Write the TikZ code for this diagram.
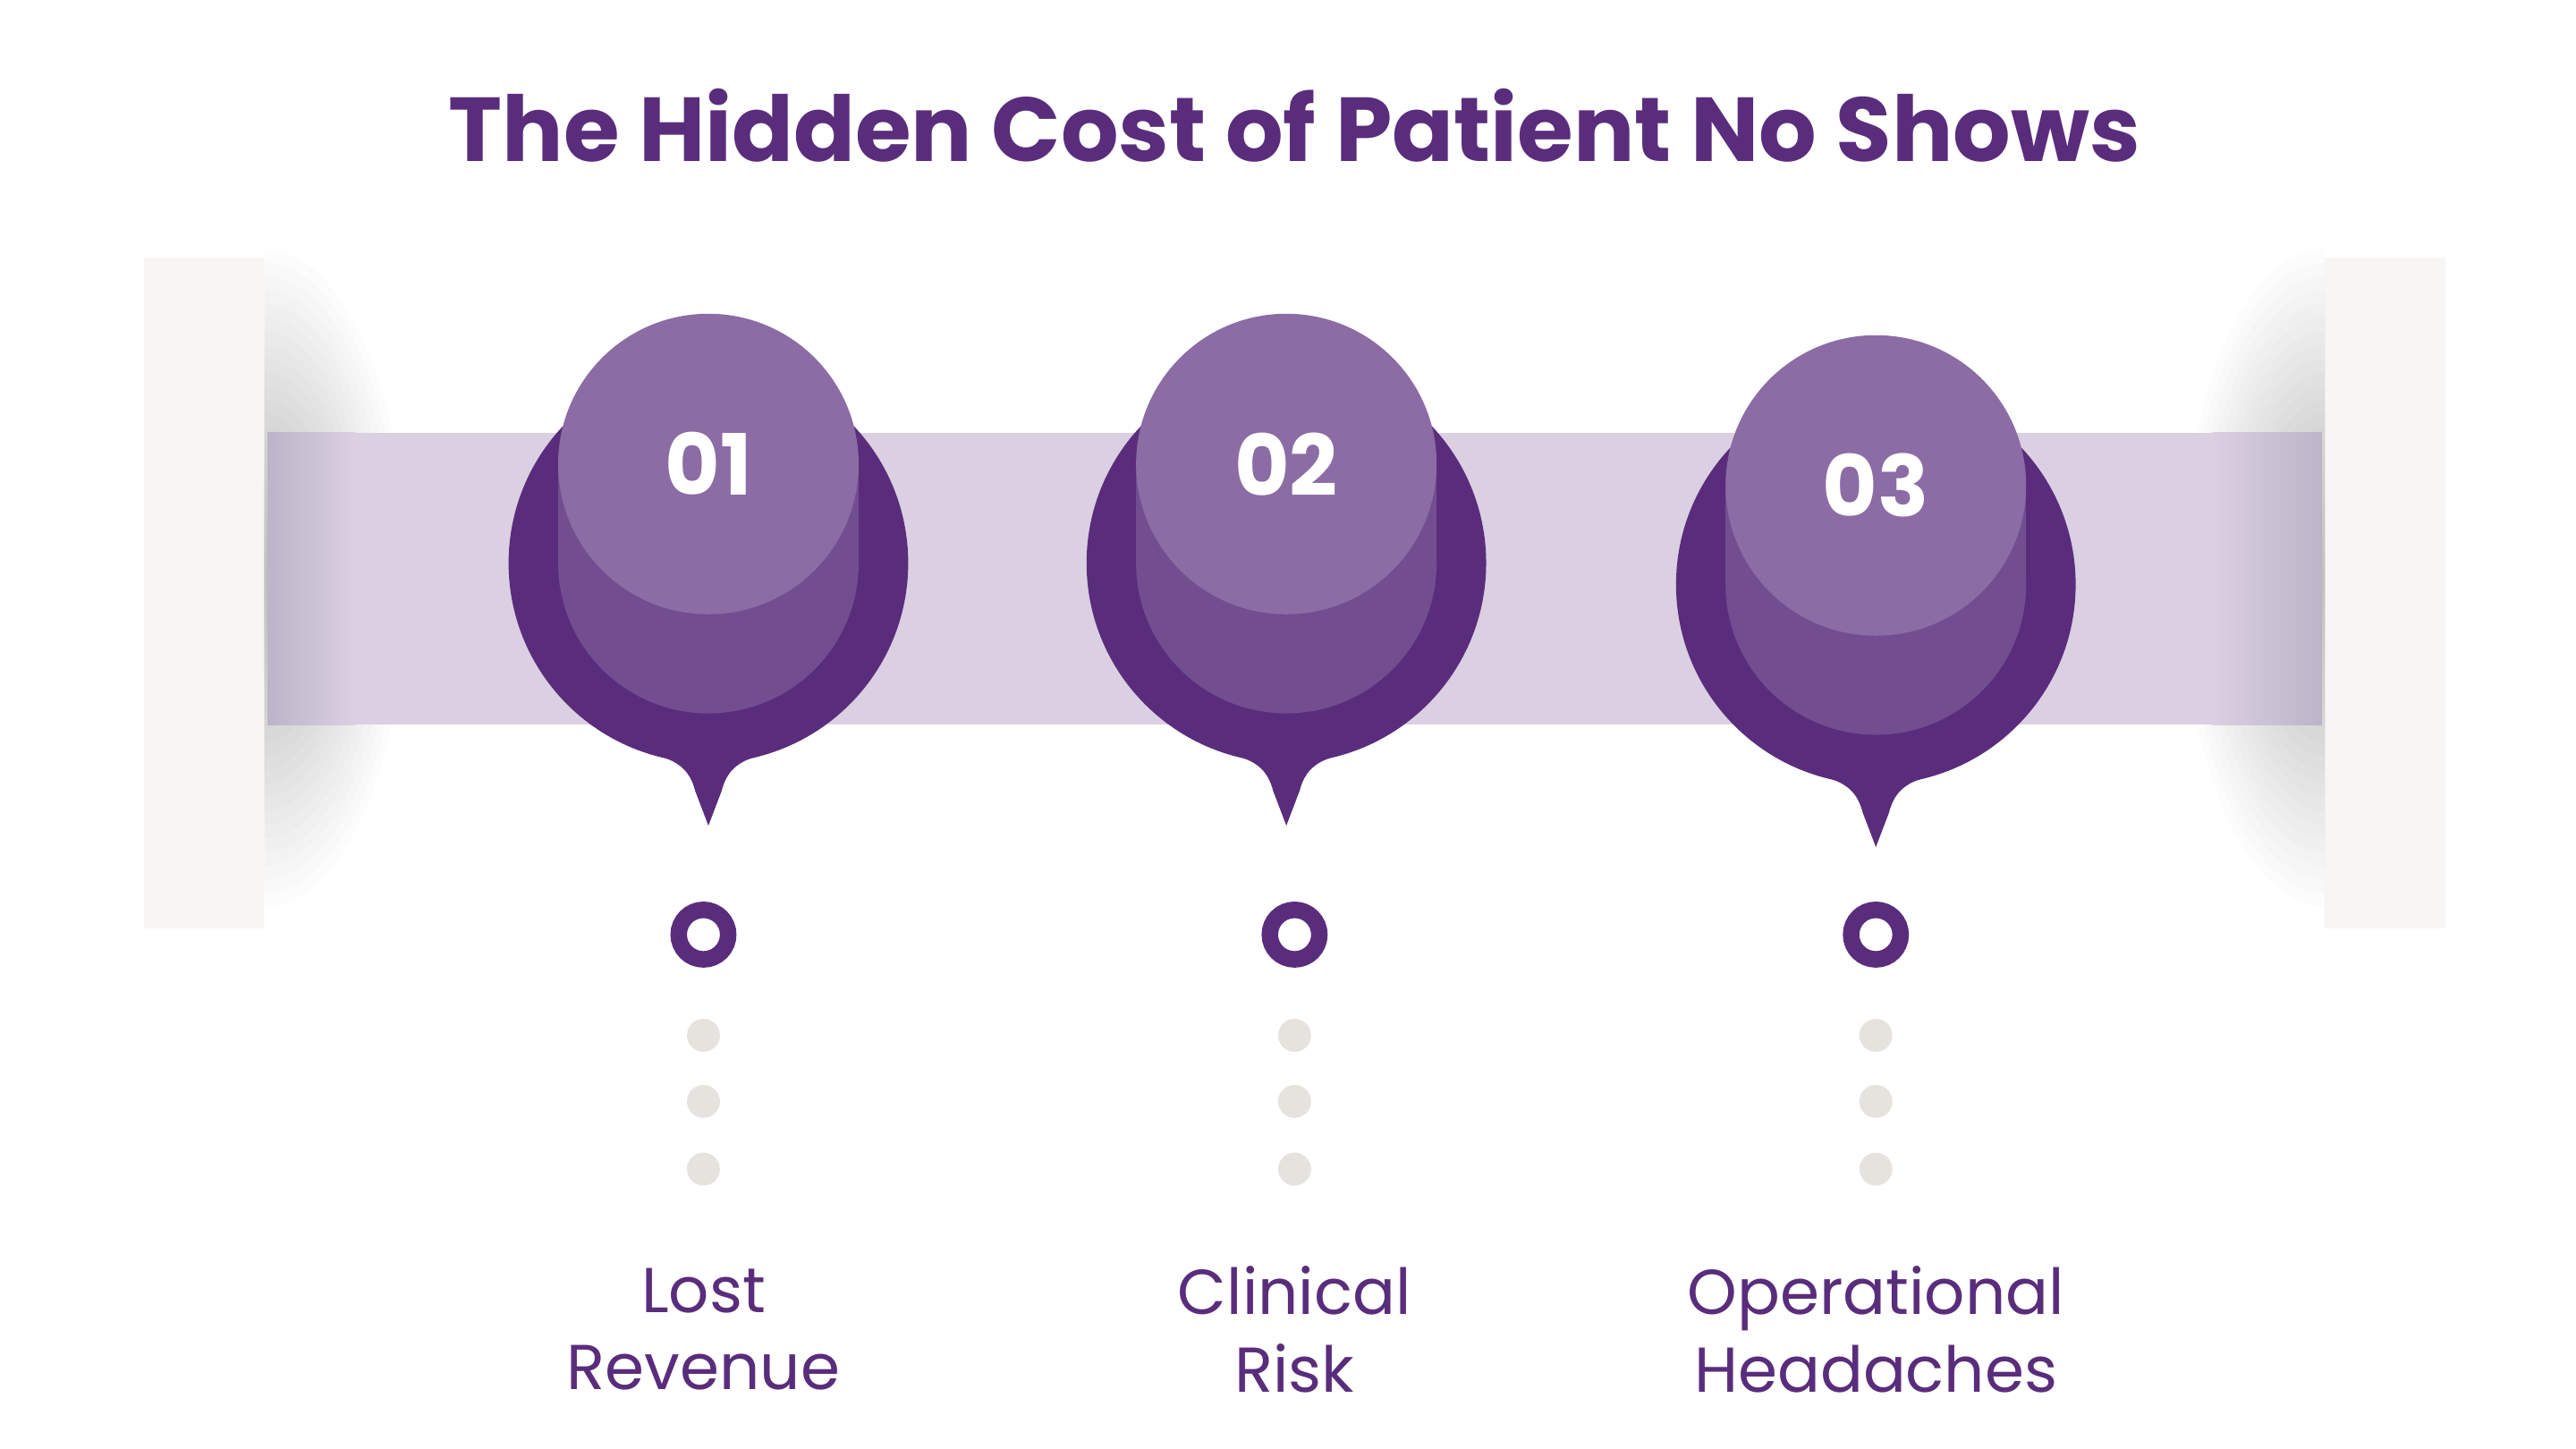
\documentclass[tikz,border=0pt]{standalone}
\usepackage{fontspec}
\setmainfont{Poppins}
\usetikzlibrary{positioning}

\definecolor{darkpurple}{HTML}{5A2D7C}
\definecolor{midpurple}{HTML}{724E91}
\definecolor{toppurple}{HTML}{8B6CA5}
\definecolor{band}{HTML}{DBCFE2}
\definecolor{bandend}{HTML}{BCB4C8}
\definecolor{post}{HTML}{F7F6F5}
\definecolor{dotgray}{HTML}{E6E3DF}

\begin{document}
\begin{tikzpicture}[x=0.5pt, y=-0.5pt,
    pintop/.style={circle, fill=toppurple, minimum size=91pt, inner sep=0pt,
      text=white, font=\bfseries\fontsize{25.6}{25.6}\selectfont},
    ring/.style={circle, draw=darkpurple, line width=5pt, fill=white,
      minimum size=15pt, inner sep=0pt},
    dot/.style={circle, fill=dotgray, minimum size=10pt, inner sep=0pt},
    lbl/.style={align=center, text=darkpurple, inner sep=0pt,
      font=\fontsize{19.2}{23.5}\selectfont},
    shadowlayer/.style={fill=black, opacity=0.011}]
      \useasboundingbox (0,0) rectangle (1560,877.5);

      % Title
      \node[anchor=base, text=darkpurple, font=\bfseries\fontsize{27.5}{27.5}\selectfont]
        (title) at (784,98) {The Hidden Cost of Patient No Shows};

      % Posts and their shadows
      \fill[post] (87,156) rectangle (160,562);
      \fill[post] (1408,156) rectangle (1481,562);
      \begin{scope}
        \clip (160,100) rectangle (1408,600);
        \foreach \k in {1,...,24} {
          \fill[shadowlayer] (160,350) ellipse[x radius={3.6*\k}, y radius={8.3*\k}];
          \fill[shadowlayer] (1408,350) ellipse[x radius={3.6*\k}, y radius={8.3*\k}];
        }
      \end{scope}

      % Band
      \fill[band] (162,262) rectangle (1406,439);
      \fill[left color=bandend, right color=band] (162,262) rectangle (215,439);
      \fill[left color=band, right color=bandend] (1340,262) rectangle (1406,439);

      % Pins, rings, dots and labels
      \foreach \i/\cx/\cy/\lx/\num/\txt in {1/429/341/426/01/{Lost\\Revenue},
          2/779/341/784/02/{Clinical\\Risk}, 3/1136/354/1136/03/{Operational\\Headaches}} {
        \begin{scope}[shift={(\cx,\cy)}]
          \fill[darkpurple] (0,0) circle[radius=121];
          \fill[darkpurple] (-30,117) .. controls (-18,120) and (-11,126) .. (-8,138)
            -- (0,159) -- (8,138) .. controls (11,126) and (18,120) .. (30,117) -- cycle;
          \fill[midpurple] (0,0) circle[radius=91];
          \fill[midpurple] (-91,-60) rectangle (91,0);
        \end{scope}
        \node[pintop] (num\i) at (\cx,\cy-60) {\num};

        \node[ring] (ring\i) at (\lx,566) {};
        \node[dot] (dota\i) at (\lx,627) {};
        \node[dot] (dotb\i) at (\lx,667) {};
        \node[dot] (dotc\i) at (\lx,708) {};
        \node[lbl] (lbl\i) at (\lx,805) {\txt};
      }

    \end{tikzpicture}
\end{document}
